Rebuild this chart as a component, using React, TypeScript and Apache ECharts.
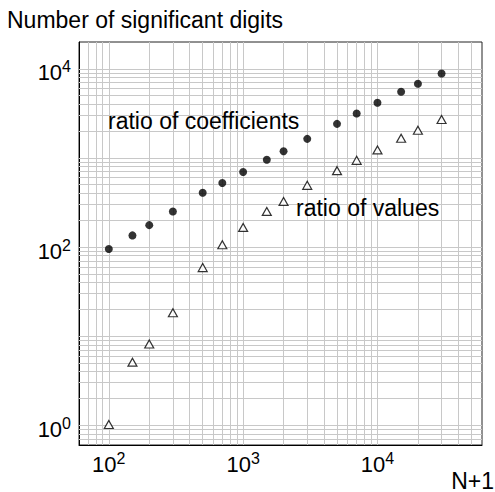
import React, { useEffect, useRef } from 'react';
import * as echarts from 'echarts';

// N+1 values (x) and number of significant digits (y)
const nPlusOne = [100, 150, 200, 300, 500, 700, 1000, 1500, 2000, 3000, 5000, 7000, 10000, 15000, 20000, 30000];
const coefficientDigits = [95, 135, 176, 250, 407, 524, 696, 952, 1186, 1637, 2411, 3150, 4156, 5525, 6796, 8878];
const valueDigits = [1.02, 5.1, 8.15, 18.3, 58.8, 106, 166, 251, 325, 492, 720, 940, 1230, 1661, 2044, 2698];

// labelled decades
const xTickExponents = [2, 3, 4];
const yTickExponents = [0, 2, 4];

const xMin = 60;
const xMax = 60000;
const yMin = 0.6;
const yMax = 20000;

const FONT = '"Liberation Sans", Arial, Helvetica, sans-serif';

function gridValues(lo: number, hi: number): number[] {
  const out: number[] = [];
  for (let e = Math.floor(Math.log10(lo)); e <= Math.ceil(Math.log10(hi)); e++) {
    for (let k = 1; k <= 9; k++) {
      const v = parseFloat((k * Math.pow(10, e)).toPrecision(6));
      if (v > lo * 1.0001 && v < hi * 0.9999) out.push(v);
    }
  }
  return out;
}

function powLabel(v: number, exps: number[]): string {
  const e = Math.log10(v);
  const r = Math.round(e);
  if (Math.abs(e - r) > 1e-6) return '';
  if (exps.indexOf(r) < 0) return '';
  return '{b|10}{s|' + r + '}';
}

const richLabel = {
  b: { fontSize: 22, fontFamily: FONT, color: '#000', lineHeight: 28 },
  s: { fontSize: 16, fontFamily: FONT, color: '#000', verticalAlign: 'top', lineHeight: 16 },
};

export default function App() {
  const ref = useRef<HTMLDivElement>(null);
  useEffect(() => {
    if (!ref.current) return;
    const chart = echarts.init(ref.current, undefined, { renderer: 'svg' });
    const xGrid = gridValues(xMin, xMax);
    const yGrid = gridValues(yMin, yMax);
    chart.setOption({
      animation: false,
      backgroundColor: '#fff',
      grid: {
        left: 79,
        top: 42,
        width: 403,
        height: 403,
        show: true,
        borderColor: '#222',
        borderWidth: 1,
        backgroundColor: 'transparent',
      },
      xAxis: {
        type: 'log',
        logBase: 10,
        min: xMin,
        max: xMax,
        axisLine: { show: true, lineStyle: { color: '#000', width: 1 } },
        axisTick: { show: false },
        splitLine: { show: false },
        axisLabel: {
          margin: 5,
          formatter: (v: number) => powLabel(v, xTickExponents),
          rich: richLabel,
        },
      },
      yAxis: {
        type: 'log',
        logBase: 10,
        min: yMin,
        max: yMax,
        axisLine: { show: true, lineStyle: { color: '#000', width: 1 } },
        axisTick: { show: false },
        splitLine: { show: false },
        axisLabel: {
          margin: 8,
          padding: [8, 0, 0, 0],
          formatter: (v: number) => powLabel(v, yTickExponents),
          rich: richLabel,
        },
      },
      graphic: [
        {
          type: 'text',
          x: 7,
          y: 19.5,
          style: { text: 'Number of significant digits', font: '23px ' + FONT, fill: '#000', align: 'left', verticalAlign: 'middle' },
        },
        {
          type: 'text',
          x: 494,
          y: 480.5,
          style: { text: 'N+1', font: '23px ' + FONT, fill: '#000', align: 'right', verticalAlign: 'middle' },
        },
        {
          type: 'text',
          x: 108,
          y: 120.5,
          z: 10,
          style: { text: 'ratio of coefficients', font: '23px ' + FONT, fill: '#000', align: 'left', verticalAlign: 'middle' },
        },
        {
          type: 'text',
          x: 296,
          y: 208,
          z: 10,
          style: { text: 'ratio of values', font: '23px ' + FONT, fill: '#000', align: 'left', verticalAlign: 'middle' },
        },
      ],
      series: [
        {
          type: 'line',
          data: [],
          symbol: 'none',
          silent: true,
          z: 1,
          lineStyle: { opacity: 0 },
          markLine: {
            z: 1,
            silent: true,
            animation: false,
            symbol: ['none', 'none'],
            label: { show: false },
            lineStyle: { color: '#c8c8c8', width: 1, type: 'solid' },
            emphasis: { disabled: true },
            data: [
              ...xGrid.map((v) => ({ xAxis: v })),
              ...yGrid.map((v) => ({ yAxis: v })),
            ],
          },
        },
        {
          name: 'ratio of coefficients',
          type: 'scatter',
          z: 10,
          symbol: 'circle',
          symbolSize: 8,
          itemStyle: { color: '#000' },
          data: nPlusOne.map((x, i) => [x, coefficientDigits[i]]),
        },
        {
          name: 'ratio of values',
          type: 'scatter',
          z: 10,
          symbol: 'triangle',
          symbolSize: [9, 8],
          itemStyle: { color: '#fff', borderColor: '#000', borderWidth: 1.2 },
          data: nPlusOne.map((x, i) => [x, valueDigits[i]]),
        },
      ],
    });
    return () => chart.dispose();
  }, []);
  return (
    <div
      ref={ref}
      style={{ position: 'fixed', left: 0, top: 0, width: 495, height: 492, background: '#fff' }}
    />
  );
}
